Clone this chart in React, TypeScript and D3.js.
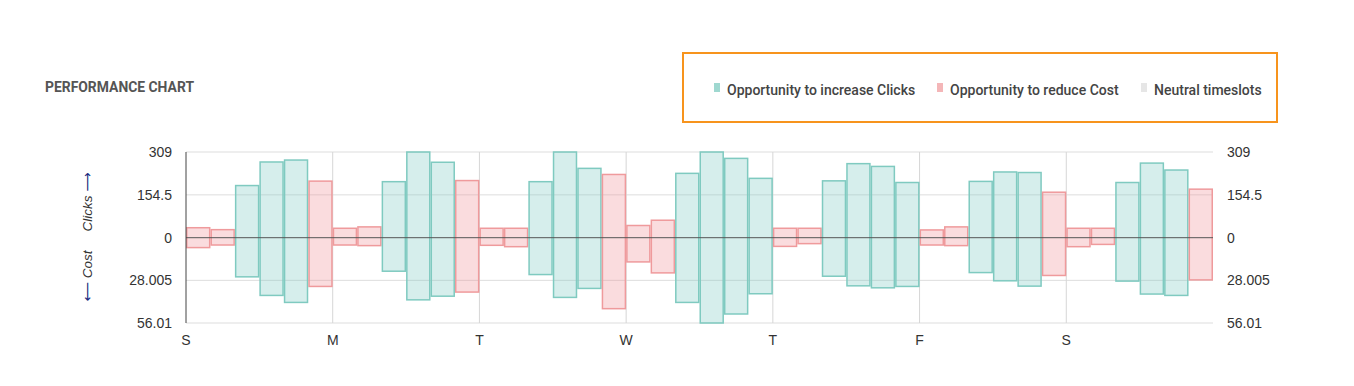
import React, { useRef, useEffect } from "react";
import * as d3 from "d3";

// day labels (one per day, 6 four-hour slots each)
const days = ["S", "M", "T", "W", "T", "F", "S"];
const slotsPerDay = 6;

// type of each slot: "clicks" = opportunity to increase clicks, "cost" = reduce cost
const slotTypes = [
  "cost", "cost", "clicks", "clicks", "clicks", "cost",
  "cost", "cost", "clicks", "clicks", "clicks", "cost",
  "cost", "cost", "clicks", "clicks", "clicks", "cost",
  "cost", "cost", "clicks", "clicks", "clicks", "clicks",
  "cost", "cost", "clicks", "clicks", "clicks", "clicks",
  "cost", "cost", "clicks", "clicks", "clicks", "cost",
  "cost", "cost", "clicks", "clicks", "clicks", "cost",
];

// clicks per slot (upper half)
const clicksValues = [
  36, 29, 188, 273, 280, 204,
  34, 39, 202, 309, 272, 206,
  34, 34, 202, 309, 250, 228,
  44, 63, 232, 309, 286, 214,
  34, 34, 205, 267, 257, 199,
  28, 39, 203, 237, 235, 164,
  34, 34, 199, 269, 244, 175,
];

// cost per slot (lower half)
const costValues = [
  6.5, 4.8, 25.7, 37.9, 42.5, 32.0,
  4.8, 5.2, 22.0, 40.8, 38.4, 35.7,
  5.0, 5.9, 24.2, 39.2, 33.3, 46.6,
  15.9, 23.1, 42.5, 56.01, 50.1, 36.8,
  5.7, 3.9, 25.3, 31.6, 32.9, 32.0,
  4.8, 5.2, 22.9, 28.3, 31.8, 24.8,
  5.9, 4.4, 28.5, 37.0, 37.9, 27.7,
];

const clicksTicks = [0, 154.5, 309];
const costTicks = [28.005, 56.01];

const legendItems = [
  { label: "Opportunity to increase Clicks", key: "clicks" },
  { label: "Opportunity to reduce Cost", key: "cost" },
  { label: "Neutral timeslots", key: "neutral" },
];

const colors = {
  clicks: { fill: "rgba(128,203,196,0.32)", stroke: "#7fcac0", legend: "#9fd8d0" },
  cost: { fill: "rgba(240,150,155,0.33)", stroke: "#ef9a9c", legend: "#f4b6b8" },
  neutral: { fill: "#eee", stroke: "#ddd", legend: "#e6e6e6" },
};

const App = () => {
  const svgRef = useRef(null);

  useEffect(() => {
    const width = 1354;
    const height = 386;
    const plot = { left: 186, right: 1213, top: 152, zero: 237.7, bottom: 323 };

    const svg = d3.select(svgRef.current).attr("width", width).attr("height", height);
    svg.selectAll("*").remove();

    // Title
    svg
      .append("text")
      .attr("x", 45)
      .attr("y", 92)
      .attr("fill", "#555")
      .style("font-family", "Roboto, Arial, sans-serif")
      .style("font-weight", "bold")
      .style("font-size", "13.9px")
      .text("PERFORMANCE CHART");

    // Legend box
    svg
      .append("rect")
      .attr("x", 683)
      .attr("y", 53)
      .attr("width", 594)
      .attr("height", 69)
      .attr("fill", "white")
      .attr("stroke", "#f7941d")
      .attr("stroke-width", 2);

    const legendX = [714, 937, 1141];
    const legend = svg
      .selectAll(".legend-item")
      .data(legendItems)
      .join("g")
      .attr("class", "legend-item")
      .attr("transform", (d, i) => `translate(${legendX[i]}, 0)`);
    legend
      .append("rect")
      .attr("x", 0)
      .attr("y", 83)
      .attr("width", 6)
      .attr("height", 9)
      .attr("fill", (d) => colors[d.key].legend);
    legend
      .append("text")
      .attr("x", 13)
      .attr("y", 95)
      .attr("fill", "#444")
      .style("font-family", "Roboto, Arial, sans-serif")
      .style("font-weight", 500)
      .style("font-size", "14px")
      .text((d) => d.label);

    // Scales
    const n = days.length * slotsPerDay;
    const xScale = d3
      .scaleBand()
      .domain(d3.range(n))
      .range([plot.left, plot.right])
      .padding(0);
    const dayScale = d3
      .scaleLinear()
      .domain([0, days.length])
      .range([plot.left, plot.right]);
    const yClicks = d3.scaleLinear().domain([0, 309]).range([plot.zero, plot.top]);
    const yCost = d3.scaleLinear().domain([0, 56.01]).range([plot.zero, plot.bottom]);

    const g = svg.append("g");

    // Horizontal gridlines
    const grid = [
      ...clicksTicks.filter((t) => t !== 0).map((t) => yClicks(t)),
      ...costTicks.map((t) => yCost(t)),
    ];
    g.selectAll(".hgrid")
      .data(grid)
      .join("line")
      .attr("x1", plot.left)
      .attr("x2", plot.right)
      .attr("y1", (d) => d)
      .attr("y2", (d) => d)
      .attr("stroke", "#ddd")
      .attr("stroke-width", 1);

    // Vertical gridlines at day starts
    g.selectAll(".vgrid")
      .data(d3.range(1, days.length))
      .join("line")
      .attr("x1", (d) => dayScale(d))
      .attr("x2", (d) => dayScale(d))
      .attr("y1", plot.top)
      .attr("y2", plot.bottom)
      .attr("stroke", "#d6d6d6")
      .attr("stroke-width", 1);

    // Bars
    const bars = d3.range(n).map((i) => ({
      i,
      type: slotTypes[i],
      clicks: clicksValues[i],
      cost: costValues[i],
    }));
    g.selectAll(".bar")
      .data(bars)
      .join("rect")
      .attr("x", (d) => xScale(d.i) + 0.75)
      .attr("width", xScale.bandwidth() - 1.5)
      .attr("y", (d) => yClicks(d.clicks))
      .attr("height", (d) => yCost(d.cost) - yClicks(d.clicks))
      .attr("fill", (d) => colors[d.type].fill)
      .attr("stroke", (d) => colors[d.type].stroke)
      .attr("stroke-width", 1.5);

    // Zero line
    g.append("line")
      .attr("x1", plot.left)
      .attr("x2", plot.right)
      .attr("y1", plot.zero)
      .attr("y2", plot.zero)
      .attr("stroke", "#555")
      .attr("stroke-width", 1);

    // Left axis line
    g.append("line")
      .attr("x1", plot.left)
      .attr("x2", plot.left)
      .attr("y1", plot.top)
      .attr("y2", plot.bottom)
      .attr("stroke", "#444")
      .attr("stroke-width", 1);

    // Tick labels both sides
    const tickLabels = [
      ...clicksTicks.map((t) => ({ y: yClicks(t), label: String(t) })),
      ...costTicks.map((t) => ({ y: yCost(t), label: String(t) })),
    ];
    const tickStyle = (sel, x, anchor) =>
      sel
        .attr("x", x)
        .attr("y", (d) => d.y + 5)
        .attr("text-anchor", anchor)
        .attr("fill", "#333")
        .style("font-family", "'Liberation Sans', Arial, sans-serif")
        .style("font-size", "14px")
        .text((d) => d.label);
    g.selectAll(".ltick").data(tickLabels).join("text").call(tickStyle, 172, "end");
    g.selectAll(".rtick").data(tickLabels).join("text").call(tickStyle, 1227, "start");

    // Day labels
    g.selectAll(".day")
      .data(days)
      .join("text")
      .attr("x", (d, i) => dayScale(i))
      .attr("y", 345)
      .attr("text-anchor", "middle")
      .attr("fill", "#333")
      .style("font-family", "'Liberation Sans', Arial, sans-serif")
      .style("font-size", "14px")
      .text((d) => d);

    // Axis titles
    const clicksTitle = svg
      .append("text")
      .attr("transform", `translate(92, 202) rotate(-90)`)
      .attr("text-anchor", "middle")
      .attr("fill", "#333")
      .style("font-family", "'Liberation Sans', Arial, sans-serif")
      .style("font-style", "italic")
      .style("font-size", "13.5px");
    clicksTitle.append("tspan").text("Clicks ");
    clicksTitle
      .append("tspan")
      .attr("fill", "#1a2a80")
      .style("font-style", "normal")
      .style("font-family", "'DejaVu Sans', sans-serif")
      .text("⟶");

    const costTitle = svg
      .append("text")
      .attr("transform", `translate(92, 276) rotate(-90)`)
      .attr("text-anchor", "middle")
      .attr("fill", "#333")
      .style("font-family", "'Liberation Sans', Arial, sans-serif")
      .style("font-style", "italic")
      .style("font-size", "13.5px");
    costTitle
      .append("tspan")
      .attr("fill", "#1a2a80")
      .style("font-style", "normal")
      .style("font-family", "'DejaVu Sans', sans-serif")
      .text("⟵");
    costTitle.append("tspan").text(" Cost");
  }, []);

  return (
    <div style={{ position: "absolute", left: 0, top: 0 }}>
      <svg ref={svgRef} style={{ display: "block" }} />
    </div>
  );
};

export default App;
